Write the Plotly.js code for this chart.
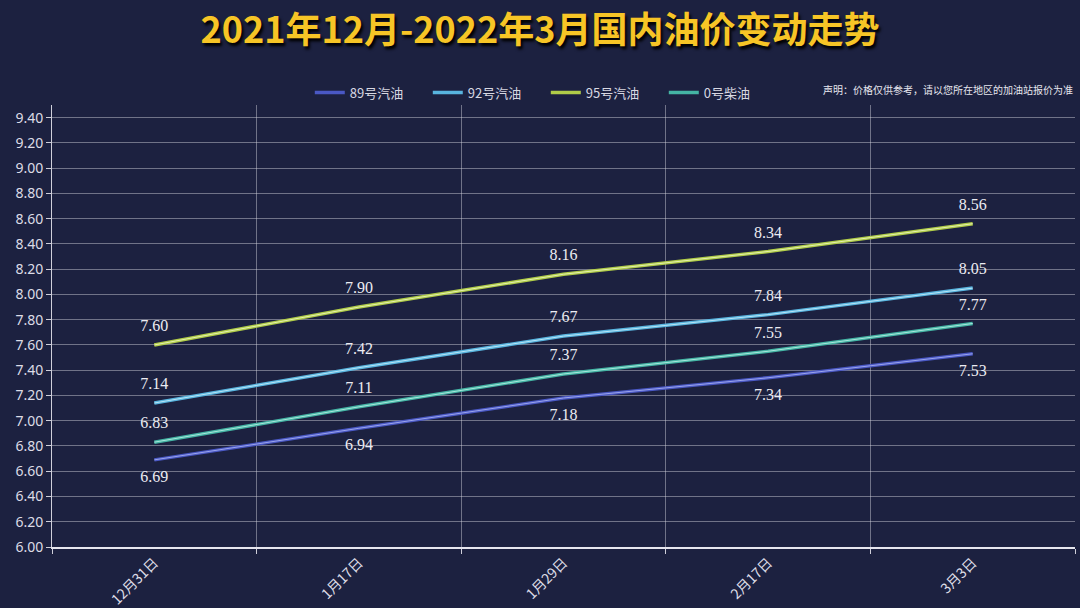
<!DOCTYPE html>
<html>
<head>
<meta charset="utf-8">
<script src="https://cdn.plot.ly/plotly-3.0.1.min.js"></script>
<style>
html,body{margin:0;padding:0;background:#1c2140;}
#chart{width:1080px;height:608px;}
</style>
</head>
<body>
<div id="chart"></div>
<script>
const categories = ["12月31日", "1月17日", "1月29日", "2月17日", "3月3日"];
const seriesNames = ["89号汽油", "92号汽油", "95号汽油", "0号柴油"];
const gas89 = [6.69, 6.94, 7.18, 7.34, 7.53];
const gas92 = [7.14, 7.42, 7.67, 7.84, 8.05];
const gas95 = [7.60, 7.90, 8.16, 8.34, 8.56];
const diesel0 = [6.83, 7.11, 7.37, 7.55, 7.77];
const yTicks = [6.0, 6.2, 6.4, 6.6, 6.8, 7.0, 7.2, 7.4, 7.6, 7.8, 8.0, 8.2, 8.4, 8.6, 8.8, 9.0, 9.2, 9.4];

const colors = ["#4a58c4", "#58b4de", "#b0cc48", "#44b4a4"];
const cores = ["#9aa4ec", "#b8e4f6", "#e4f0b0", "#a8e6dc"];
const seriesData = [gas89, gas92, gas95, diesel0];
const textPos = ["bottom center", "top center", "top center", "top center"];

const traces = [];
seriesData.forEach((vals, i) => {
  traces.push({
    type: "scatter", mode: "lines+markers+text", name: seriesNames[i],
    x: categories, y: vals,
    text: vals.map(v => v.toFixed(2)),
    textposition: textPos[i],
    textfont: {family: "Liberation Serif, DejaVu Serif, serif", size: 16, color: "#ececf2"},
    line: {color: colors[i], width: 3.5},
    marker: {size: 14, color: "rgba(0,0,0,0)", line: {width: 0}},
    hoverinfo: "x+y+name"
  });
});
seriesData.forEach((vals, i) => {
  traces.push({
    type: "scatter", mode: "lines", name: seriesNames[i] + "_core",
    x: categories, y: vals, showlegend: false, hoverinfo: "skip",
    line: {color: cores[i], width: 1}
  });
});

const layout = {
  width: 1080, height: 608,
  paper_bgcolor: "#1c2140",
  plot_bgcolor: "#1c2140",
  margin: {l: 52, r: 5, t: 105, b: 61},
  title: {
    text: "<b>2021年12月-2022年3月国内油价变动走势</b>",
    x: 0.5, xanchor: "center", y: 0.95, yanchor: "middle",
    font: {family: "Noto Sans CJK SC, sans-serif", size: 36, color: "#f7c526", shadow: "2px 3px 3px #000"}
  },
  font: {family: "Noto Sans CJK SC, Noto Sans, sans-serif", color: "#dcdce6"},
  showlegend: true,
  legend: {
    orientation: "h", x: 0.252, xanchor: "left", y: 1.028, yanchor: "middle",
    font: {size: 13, color: "#d8d8e2"},
    bgcolor: "rgba(0,0,0,0)",
    entrywidth: 73, entrywidthmode: "pixels", itemwidth: 30
  },
  xaxis: {
    type: "category",
    tickson: "boundaries",
    range: [-0.5, 4.5],
    showgrid: true, gridcolor: "rgba(215,215,225,0.45)", gridwidth: 1,
    showline: true, linecolor: "#e6e6ee", linewidth: 2,
    ticks: "outside", ticklen: 5, tickcolor: "#cfcfda",
    tickangle: -45,
    tickfont: {size: 14, color: "#dcdce6"},
    zeroline: false, fixedrange: true
  },
  yaxis: {
    range: [6.0, 9.5],
    tickvals: yTicks,
    ticktext: yTicks.map(v => v.toFixed(2)),
    showgrid: true, gridcolor: "rgba(215,215,225,0.45)", gridwidth: 1,
    showline: true, linecolor: "#cfcfda", linewidth: 1,
    ticks: "outside", ticklen: 5, tickcolor: "#cfcfda",
    tickfont: {family: "Noto Sans, sans-serif", size: 14, color: "#dcdce6"},
    zeroline: false, fixedrange: true
  },
  annotations: [{
    text: "声明：价格仅供参考，请以您所在地区的加油站报价为准",
    xref: "paper", yref: "paper", x: 1.0, y: 1.035, xanchor: "right", yanchor: "middle",
    showarrow: false, font: {size: 10, color: "#e6e6ee"}
  }]
};

Plotly.newPlot("chart", traces, layout, {displayModeBar: false, staticPlot: true});
</script>
</body>
</html>
